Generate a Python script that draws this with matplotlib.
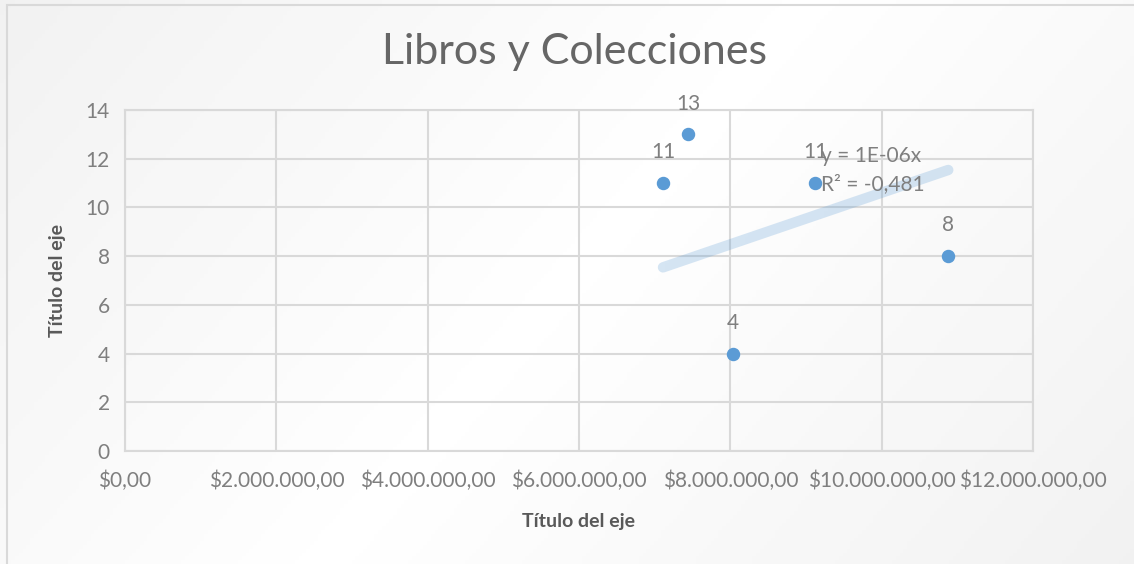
import numpy as np
import matplotlib.pyplot as plt
from matplotlib.patches import Rectangle
from matplotlib.ticker import FuncFormatter

# datos
precios = [7110000, 7440000, 8030000, 9120000, 10880000]
libros = [11, 13, 4, 11, 8]
x_ticks = [0, 2000000, 4000000, 6000000, 8000000, 10000000, 12000000]
y_ticks = [0, 2, 4, 6, 8, 10, 12, 14]
titulo = "Libros y Colecciones"
eje = "Título del eje"
ecuacion = "y = 1E-06x\nR² = -0,481"

gris = '#595959'
gris_txt = '#7f7f7f'
azul = '#5b9bd5'
rejilla = '#d9d9d9'

plt.rcParams['font.family'] = ['Lato', 'DejaVu Sans']

fig = plt.figure(figsize=(11.34, 5.64), dpi=100)

# fondo con degradado suave
bg = fig.add_axes([0, 0, 1, 1], zorder=-10)
gx, gy = np.meshgrid(np.linspace(-1, 1, 300), np.linspace(-1, 1, 150))
grad = np.abs(gx * 0.7 + gy * 0.3)
bg.imshow(grad, cmap='Greys', vmin=0, vmax=9, aspect='auto', extent=[0, 1, 0, 1])
bg.add_patch(Rectangle((7 / 1134, -0.1), 1.2, 1 - 5 / 564 + 0.1, fill=False,
                       edgecolor=rejilla, linewidth=1.5))
bg.set_xlim(0, 1)
bg.set_ylim(0, 1)
bg.axis('off')

ax = fig.add_axes([125 / 1134, 1 - 451 / 564, 908 / 1134, 341 / 564])
ax.patch.set_alpha(0)

# linea de tendencia por el origen
x = np.array(precios, dtype=float)
y = np.array(libros, dtype=float)
pend = (x * y).sum() / (x * x).sum()
xt = np.array([x.min(), x.max()])
ax.plot(xt, pend * xt, color=azul, alpha=0.25, linewidth=7.5,
        solid_capstyle='round', zorder=2)

ax.scatter(precios, libros, s=75, color=azul, zorder=3)
for px, py in zip(precios, libros):
    ax.annotate(str(py), (px, py), xytext=(0, 15), textcoords='offset points',
                ha='center', va='bottom', fontsize=15, color=gris_txt)

ax.text(9200000, 11.55, ecuacion, ha='left', va='center', fontsize=15,
        color=gris_txt, linespacing=1.5, zorder=4)

ax.set_xlim(0, 12000000)
ax.set_ylim(0, 14)
ax.set_xticks(x_ticks)
ax.set_yticks(y_ticks)
ax.xaxis.set_major_formatter(FuncFormatter(
    lambda v, p: "$" + f"{v:,.2f}".replace(",", "X").replace(".", ",").replace("X", ".")))
ax.tick_params(length=0, labelsize=15, labelcolor=gris_txt)
ax.tick_params(axis='x', pad=14)
ax.tick_params(axis='y', pad=11)
ax.grid(True, color=rejilla, linewidth=1.5)
ax.set_axisbelow(True)
for s in ax.spines.values():
    s.set_color(rejilla)
    s.set_linewidth(1.5)

ax.set_xlabel(eje, fontsize=14, fontweight='bold', color=gris, labelpad=16)
ax.set_ylabel(eje, fontsize=14, fontweight='bold', color=gris, labelpad=14)
fig.text(0.507, 1 - 52 / 564, titulo, ha='center', va='center', fontsize=31,
         color='#666666', fontweight='normal')

fig.savefig("out.png", dpi=100)
